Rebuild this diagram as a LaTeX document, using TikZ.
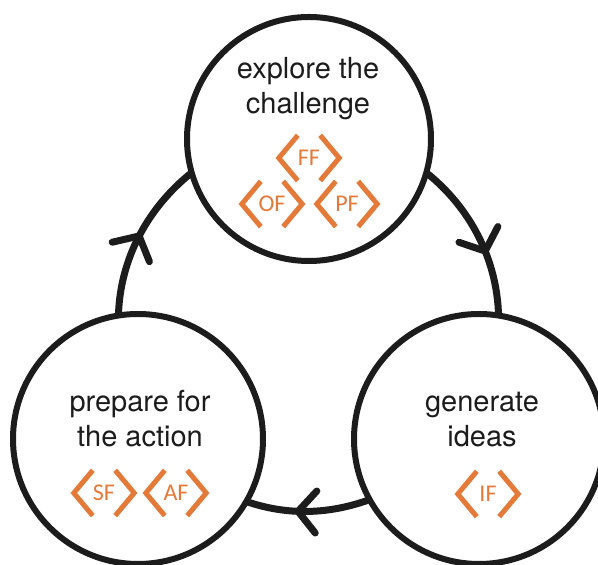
\documentclass[tikz,border=0pt]{standalone}
\usepackage{fontspec}
\setmainfont{TeX Gyre Heros}
\newfontfamily\facetfont{Carlito}
\usepackage{xcolor}
\usepackage{tikz}
\usetikzlibrary{decorations.markings}

\definecolor{ink}{RGB}{28,28,28}
\definecolor{facetorange}{RGB}{228,122,58}

\tikzset{
  stage/.style={circle, draw=ink, line width=6pt, fill=white,
    minimum size=250pt, inner sep=0pt, outer sep=0pt},
  stagetext/.style={align=center, anchor=base, text=ink,
    font=\fontsize{29}{35}\selectfont},
  facet/.style={minimum width=60pt, minimum height=45pt, inner sep=0pt,
    text=facetorange, font=\facetfont\fontsize{24}{24}\selectfont},
  chevron/.style={draw=facetorange, line width=5pt},
  flow/.style={draw=ink, line width=7pt, looseness=0.9,
    postaction={decorate},
    decoration={markings, mark=at position #1 with
      {\draw[line width=7pt, line cap=round, line join=round]
        (-18pt, 21pt) -- (0, 0) -- (-18pt, -21pt);}}},
}

% tag with angle brackets round it
\newcommand{\facettag}[3]{%
  \node[facet] (#1) at (#2) {#3};
  \draw[chevron] ([xshift=19pt]#1.north west) -- (#1.west) -- ([xshift=19pt]#1.south west);
  \draw[chevron] ([xshift=-19pt]#1.north east) -- (#1.east) -- ([xshift=-19pt]#1.south east);
}

\begin{document}
\begin{tikzpicture}[x=1pt, y=1pt]
  \useasboundingbox (0, 0) rectangle (598, 565);
  \clip (0, 0) rectangle (598, 565);

  % the three stages
  \node[stage, minimum size=244pt] (explore) at (309, 426) {};
  \node[stage] (prepare) at (138, 126) {};
  \node[stage] (generate) at (479, 126) {};

  % base sits on the last line
  \node[stagetext] (exploretext) at (308, 451) {explore the\\challenge};
  \node[stagetext] (preparetext) at (140, 118) {prepare for\\the action};
  \node[stagetext] (generatetext) at (482, 118) {generate\\ideas};

  \facettag{ff}{309, 407}{FF}
  \facettag{of}{272, 361}{OF}
  \facettag{pf}{347, 361}{PF}
  \facettag{sf}{104, 72}{SF}
  \facettag{af}{176, 72}{AF}
  \facettag{if}{488, 71}{IF}

  % cycle
  \draw[flow=0.5] (prepare.99) to[out=88.5, in=218.6] (explore.196);
  \draw[flow=0.6] (explore.344) to[out=321.4, in=91.5] (generate.81);
  \draw[flow=0.58] (generate.209) to[out=200, in=341] (prepare.330);
\end{tikzpicture}
\end{document}
